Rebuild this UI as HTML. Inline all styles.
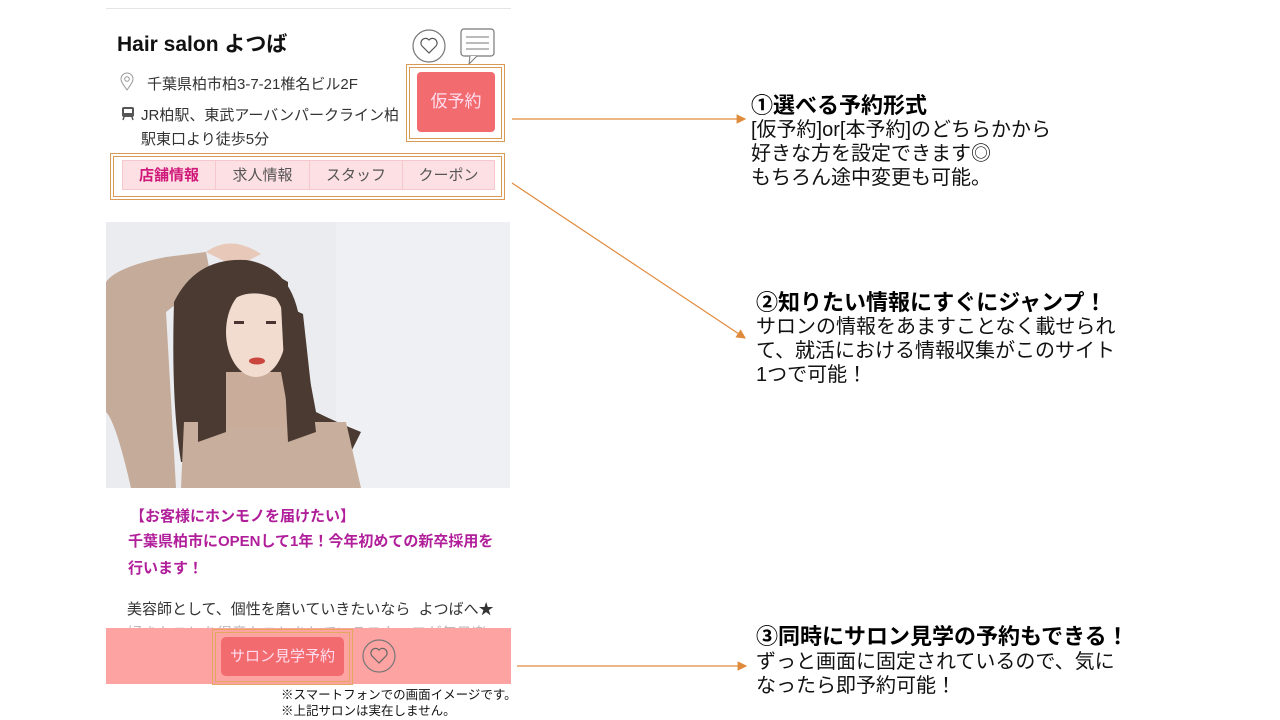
<!DOCTYPE html>
<html><head><meta charset="utf-8"><style>
body{margin:0;width:1280px;height:720px;background:#fff;position:relative;overflow:hidden;font-family:"Liberation Sans","Noto Sans CJK JP",sans-serif;color:#333}
.a{position:absolute;white-space:nowrap}
.box{position:absolute;border:1px solid #d99a55;outline:1px solid #d99a55;outline-offset:-4px}
.tab{position:absolute;top:160px;height:30px;background:#fde0e3;border:1px solid #f6c8cd;box-sizing:border-box;text-align:center;line-height:29px;font-size:15px;color:#555}
.h{font-weight:bold;font-size:22px;color:#000}
.t{font-size:20px;color:#111;line-height:24px}
.p{font-size:15px;font-weight:bold;color:#b01e9a}
</style></head><body>
<div class="a" style="left:106px;top:8px;width:405px;height:1px;background:#e4e4e4"></div>
<div class="a" style="left:117px;top:28px;font-size:21px;font-weight:bold;color:#111">Hair salon よつば</div>
<svg class="a" style="left:410px;top:28px" width="90" height="40">
<circle cx="19" cy="18" r="16" fill="none" stroke="#777" stroke-width="1.2"/>
<path d="M19 25 L12 18 A4 4 0 0 1 19 12 A4 4 0 0 1 26 18 Z" fill="none" stroke="#555" stroke-width="1.2"/>
<rect x="51" y="1" width="33" height="27" rx="3" fill="none" stroke="#777" stroke-width="1.2"/>
<path d="M56 9h23M56 15h23M56 21h23" stroke="#777"/>
<path d="M60 28 l-1 8 l8 -8" fill="#fff" stroke="#777"/>
</svg>
<svg class="a" style="left:119px;top:72px" width="16" height="20"><path d="M8 18 C3 11 2 9 2 7 A6 6 0 0 1 14 7 C14 9 13 11 8 18Z" fill="none" stroke="#999"/><circle cx="8" cy="7" r="2.3" fill="none" stroke="#999"/></svg>
<div class="a" style="left:147px;top:73px;font-size:15px;color:#333">千葉県柏市柏3-7-21椎名ビル2F</div>
<svg class="a" style="left:121px;top:106px" width="14" height="16"><rect x="1" y="1" width="12" height="10" rx="2" fill="#555"/><rect x="3" y="3" width="8" height="4" fill="#fff"/><path d="M3 11 l-1 3 M11 11 l1 3" stroke="#555" stroke-width="1.5"/></svg>
<div class="a" style="left:141px;top:104px;font-size:15px;color:#333;line-height:24px">JR柏駅、東武アーバンパークライン柏<br>駅東口より徒歩5分</div>
<div class="box" style="left:406px;top:64px;width:97px;height:76px"></div>
<div class="a" style="left:417px;top:72px;width:78px;height:60px;background:#f26b6f;border-radius:4px;color:#fde;font-size:17px;text-align:center;line-height:60px">仮予約</div>
<div class="box" style="left:110px;top:153px;width:393px;height:45px"></div>
<div class="tab" style="left:122px;width:94px;color:#d0187a;font-weight:bold">店舗情報</div>
<div class="tab" style="left:215px;width:95px">求人情報</div>
<div class="tab" style="left:309px;width:94px">スタッフ</div>
<div class="tab" style="left:402px;width:93px">クーポン</div>
<svg class="a" style="left:106px;top:222px" width="404" height="266">
<rect width="404" height="266" fill="#eaecf0"/>
<rect x="230" width="174" height="266" fill="#eff0f3"/>
<path d="M0 60 Q10 45 60 35 L100 30 L105 55 L60 90 L70 266 L25 266 Q10 200 0 190Z" fill="#c4ab9a"/>
<path d="M100 30 Q125 12 155 32 L130 45Z" fill="#e8c8b8"/>
<path d="M68 80 Q90 35 140 38 Q190 45 195 110 L210 190 Q230 200 255 210 L240 240 L75 240 Q65 180 68 80Z" fill="#4a3a32"/>
<path d="M78 200 L240 200 L255 266 L75 266Z" fill="#c8ae9c"/>
<path d="M118 150 L175 150 L185 205 L115 205Z" fill="#c9ad9a"/>
<ellipse cx="150" cy="110" rx="30" ry="45" fill="#f2dccf"/>
<path d="M115 88 Q140 58 182 82 L182 60 Q150 40 115 60Z" fill="#4a3a32"/>
<path d="M92 90 L120 82 L120 210 L92 220Z" fill="#4a3a32"/>
<path d="M175 82 L197 92 L210 210 L182 220Z" fill="#4a3a32"/>
<ellipse cx="151" cy="139" rx="8" ry="3.5" fill="#c9453e"/>
<rect x="128" y="99" width="10" height="3" fill="#4a3330"/><rect x="160" y="99" width="10" height="3" fill="#4a3330"/>
</svg>
<div class="a p" style="left:130px;top:505px">【お客様にホンモノを届けたい】</div>
<div class="a p" style="left:128px;top:530px">千葉県柏市にOPENして1年！今年初めての新卒採用を</div>
<div class="a p" style="left:128px;top:557px">行います！</div>
<div class="a" style="left:127px;top:598px;font-size:15px;color:#333">美容師として、個性を磨いていきたいなら&nbsp; よつばへ★</div>
<div class="a" style="left:127px;top:622px;font-size:15px;color:#bbb;height:8px;overflow:hidden">好きなことを得意なことをしているスタッフが毎日楽</div>
<div class="a" style="left:106px;top:628px;width:405px;height:56px;background:#fda3a2"></div>
<div class="box" style="left:212px;top:629px;width:139px;height:54px;border-color:#e2a860;outline-color:#e2a860"></div>
<div class="a" style="left:221px;top:637px;width:123px;height:39px;background:#f26b6f;border-radius:5px;color:#fde;font-size:15px;text-align:center;line-height:39px">サロン見学予約</div>
<svg class="a" style="left:360px;top:638px" width="38" height="38"><circle cx="19" cy="18" r="16" fill="none" stroke="#777" stroke-width="1.2"/><path d="M19 25 L12 18 A4 4 0 0 1 19 12 A4 4 0 0 1 26 18 Z" fill="none" stroke="#666" stroke-width="1.2"/></svg>
<div class="a" style="left:281px;top:687px;font-size:12.5px;color:#111;line-height:16px">※スマートフォンでの画面イメージです。<br>※上記サロンは実在しません。</div>
<svg class="a" style="left:0;top:0" width="1280" height="720">
<defs><marker id="m" markerWidth="8" markerHeight="8" refX="7" refY="4" orient="auto"><path d="M0 0 L8 4 L0 8Z" fill="#e08a3c"/></marker></defs>
<g stroke="#e08a3c" stroke-width="1.2" marker-end="url(#m)">
<line x1="512" y1="119" x2="745" y2="119"/>
<line x1="512" y1="183" x2="745" y2="338"/>
<line x1="517" y1="666" x2="746" y2="666"/>
</g></svg>
<div class="a h" style="left:751px;top:88px">①選べる予約形式</div>
<div class="a t" style="left:751px;top:118px">[仮予約]or[本予約]のどちらかから<br>好きな方を設定できます◎<br>もちろん途中変更も可能。</div>
<div class="a h" style="left:756px;top:285px">②知りたい情報にすぐにジャンプ！</div>
<div class="a t" style="left:756px;top:315px">サロンの情報をあますことなく載せられ<br>て、就活における情報収集がこのサイト<br>1つで可能！</div>
<div class="a h" style="left:756px;top:619px">③同時にサロン見学の予約もできる！</div>
<div class="a t" style="left:756px;top:650px">ずっと画面に固定されているので、気に<br>なったら即予約可能！</div>
</body></html>
